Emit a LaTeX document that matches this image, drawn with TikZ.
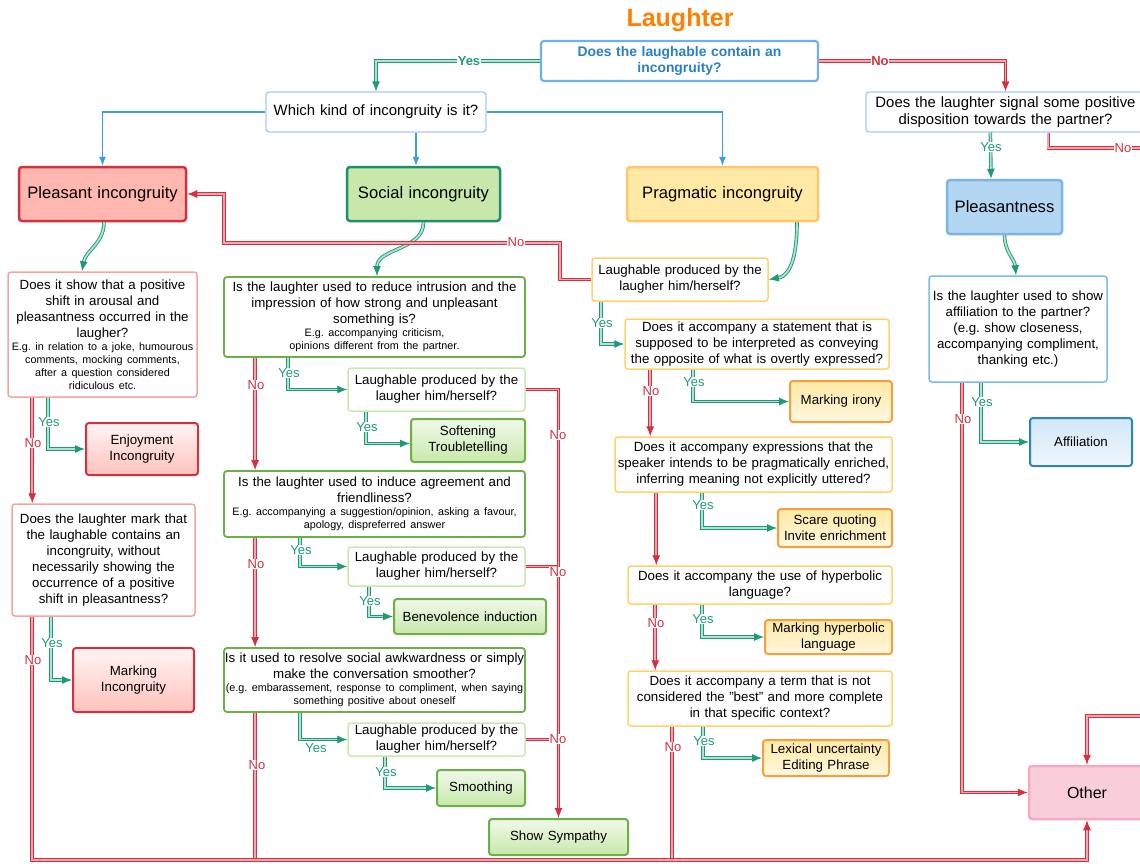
\documentclass[tikz,border=0pt]{standalone}
\usepackage{fontspec}
\setmainfont{Liberation Sans}
\usetikzlibrary{arrows.meta,calc}
\frenchspacing
\definecolor{redc}{HTML}{D3313F}
\definecolor{redcore}{HTML}{F0A8AE}
\definecolor{grc}{HTML}{1E9A78}
\definecolor{grcore}{HTML}{B2E2D2}
\definecolor{bluec}{HTML}{3A9FE0}
\definecolor{titlec}{HTML}{FF8000}
\definecolor{n0line}{HTML}{6FB1E3}
\definecolor{n0text}{HTML}{2B80C3}
\definecolor{qblueline}{HTML}{A3CCF0}
\definecolor{plfill}{HTML}{FFB7AF}
\definecolor{sofill}{HTML}{C7E8AA}
\definecolor{soline}{HTML}{1E8F6E}
\definecolor{prfill}{HTML}{FFE9A4}
\definecolor{prline}{HTML}{FFC66E}
\definecolor{pnfill}{HTML}{B3D6F2}
\definecolor{pnline}{HTML}{79B5E5}
\definecolor{lqline}{HTML}{F5A59E}
\definecolor{sqline}{HTML}{6DB04B}
\definecolor{saline}{HTML}{C8E9AC}
\definecolor{pqline}{HTML}{FFD36B}
\definecolor{rqline}{HTML}{7DBBEA}
\definecolor{orline}{HTML}{F4A040}
\definecolor{afline}{HTML}{2C83C4}
\definecolor{otfill}{HTML}{F9CEDA}
\definecolor{otline}{HTML}{F5ABC1}
\newcommand\fmain{\fontsize{13.3}{16}\selectfont}
\newcommand\fsmall{\fontsize{10.8}{13}\selectfont}
\newcommand\fcat{\fontsize{16.6}{19}\selectfont}
\newcommand\ftop{\fontsize{14.9}{17}\selectfont}
\newcommand\flab{\fontsize{13}{14}\selectfont}
\begin{document}
\begin{tikzpicture}[x=1pt,y=-1pt,
  wh/.style 2 args={minimum width=#1pt, text width=#1pt, minimum height=#2pt},
  base/.style={rounded corners=3pt, align=center, inner xsep=0pt, inner ysep=2pt, font=\fmain},
  topq/.style={base, draw=n0line, line width=2.2pt, fill=white, text=n0text, font=\bfseries\fontsize{13.9}{16.5}\selectfont},
  qblue/.style={base, draw=qblueline, line width=1.3pt, fill=white, font=\ftop},
  cat/.style={base, line width=2.5pt, font=\fcat},
  lq/.style={base, draw=lqline, line width=1.5pt},
  sq/.style={base, draw=sqline, line width=1.8pt},
  sa/.style={base, draw=saline, line width=1.5pt},
  pq/.style={base, draw=pqline, line width=1.5pt},
  rq/.style={base, draw=rqline, line width=1.5pt},
  outred/.style={base, draw=redc, line width=2pt, top color=red!4!white, bottom color=plfill!85!white},
  outgreen/.style={base, draw=sqline, line width=2pt, top color=sofill!25!white, bottom color=sofill},
  outyel/.style={base, draw=orline, line width=2pt, top color=prfill, bottom color=prfill!35!white},
  outblue/.style={base, draw=afline, line width=2pt, top color=pnfill!60!white, bottom color=pnfill!20!white},
  yesl/.style={draw=grc, line width=0.9pt, double=grcore, double distance=1.8pt, -{Latex[length=10pt,width=8pt]}},
  nol/.style={draw=redc, line width=0.9pt, double=redcore, double distance=1.8pt, -{Latex[length=10pt,width=8pt]}},
  nojoin/.style={nol, -},
  bl/.style={draw=bluec, line width=1.1pt, -{Latex[length=9pt,width=7pt]}},
  ylab/.style={fill=white, text=grc, inner sep=0.8pt, font=\flab},
  nlab/.style={fill=white, text=redc, inner sep=0.8pt, font=\flab}
]
\useasboundingbox (0,0) rectangle (1140,863);
\clip (0,0) rectangle (1140,863);

% ---------- nodes ----------
\node[font=\bfseries\fontsize{25}{30}\selectfont, text=titlec] (title) at (680,20) {Laughter};
\node[topq, wh={277}{40}] (n0) at (679.5,61) {Does the laughable contain an\\incongruity?};
\node[qblue, wh={220}{40}] (n1) at (376,112) {Which kind of incongruity is it?};
\node[qblue, wh={279}{40}] (n2) at (1005.5,112) {Does the laughter signal some positive\\disposition towards the partner?};

\node[cat, fill=plfill, draw=redc, wh={167}{54}] (pl) at (102.5,194) {Pleasant incongruity};
\node[cat, fill=sofill, draw=soline, wh={153}{54}] (so) at (423.5,194) {Social incongruity};
\node[cat, fill=prfill, draw=prline, wh={191}{54}] (pr) at (722.5,194) {Pragmatic incongruity};
\node[cat, fill=pnfill, draw=pnline, wh={115}{54}] (pn) at (1004.5,207) {Pleasantness};

% left column
\node[lq, wh={189}{125}] (l1) at (102.5,334.5) {Does it show that a positive\\shift in arousal and\\pleasantness occurred in the\\laugher?\par
{\fsmall E.g. in relation to a joke, humourous\\comments, mocking comments,\\after a question considered\\ridiculous etc.\par}};
\node[outred, wh={112}{52}] (enj) at (142,449) {Enjoyment\\Incongruity};
\node[lq, wh={183}{112}] (l2) at (103.5,560) {Does the laughter mark that\\the laughable contains an\\incongruity, without\\necessarily showing the\\occurrence of a positive\\shift in pleasantness?};
\node[outred, wh={121}{64}] (mi) at (133.5,680) {Marking\\Incongruity};

% social column
\node[sq, wh={301}{80}] (s1) at (374.5,317) {Is the laughter used to reduce intrusion and the\\impression of how strong and unpleasant\\something is?\par
{\fsmall E.g. accompanying criticism,\\opinions different from the partner.\par}};
\node[sa, wh={177}{43}] (s1a) at (436.5,389.5) {Laughable produced by the\\laugher him/herself?};
\node[outgreen, wh={114}{43}] (soft) at (468,440.5) {Softening\\Troubletelling};
\node[sq, wh={301}{66}] (s2) at (374.5,504) {Is the laughter used to induce agreement and\\friendliness?\par
{\fsmall E.g. accompanying a suggestion/opinion, asking a favour,\\apology, dispreferred answer\par}};
\node[sa, wh={177}{39}] (s2a) at (436.5,566.5) {Laughable produced by the\\laugher him/herself?};
\node[outgreen, wh={152}{35}] (ben) at (470,616.5) {Benevolence induction};
\node[sq, wh={301}{64}] (s3) at (374.5,680) {Is it used to resolve social awkwardness or simply\\make the conversation smoother?\par
{\fsmall (e.g. embarassement, response to compliment, when saying\\something positive about oneself\par}};
\node[sa, wh={177}{33}] (s3a) at (436.5,739.5) {Laughable produced by the\\laugher him/herself?};
\node[outgreen, wh={88}{36}] (smo) at (481,788) {Smoothing};
\node[outgreen, wh={139}{36}] (sym) at (558.5,837) {Show Sympathy};

% pragmatic column
\node[pq, wh={176}{43}] (p0) at (680,279.5) {Laughable produced by the\\laugher him/herself?};
\node[pq, wh={264}{50}] (p1) at (757,344) {Does it accompany a statement that is\\supposed to be interpreted as conveying\\the opposite of what is overtly expressed?};
\node[outyel, wh={102}{41}] (irony) at (841,401.5) {Marking irony};
\node[pq, wh={277}{55}] (p2) at (753.5,464.5) {Does it accompany expressions that the\\speaker intends to be pragmatically enriched,\\inferring meaning not explicitly uttered?};
\node[outyel, wh={114}{38}] (scare) at (835,528) {Scare quoting\\Invite enrichment};
\node[pq, wh={264}{38}] (p3) at (760,585) {Does it accompany the use of hyperbolic\\language?};
\node[outyel, wh={127}{34}] (hyp) at (828.5,637) {Marking hyperbolic\\language};
\node[pq, wh={264}{55}] (p4) at (760,698.5) {Does it accompany a term that is not\\considered the "best" and more complete\\in that specific context?};
\node[outyel, wh={126}{36}] (lex) at (826,758) {Lexical uncertainty\\Editing Phrase};

% right column
\node[rq, wh={178}{106}] (r1) at (1018,329) {Is the laughter used to show\\affiliation to the partner?\\(e.g. show closeness,\\accompanying compliment,\\thanking etc.)};
\node[outblue, wh={102}{48}] (aff) at (1081,442) {Affiliation};
\node[base, fill=otfill, draw=otline, line width=2.5pt, font=\fontsize{16}{19}\selectfont, wh={116}{53}] (other) at (1087,792.5) {Other};

% ---------- coordinates ----------
\coordinate (bot) at (0,860);
\coordinate (sx) at (558,0);
\coordinate (offr1) at (1160,148);
\coordinate (offr2) at (1160,716);
\coordinate (cA) at (560,243);
\coordinate (cB) at (224,243);
\coordinate (s3no) at ([xshift=32pt]s3.south west);
\coordinate (p4no) at ([xshift=45pt]p4.south west);

% ---------- connectors ----------
\draw[yesl] (n0.west) -| (n1.north);
\draw[nol] (n0.east) -| (n2.north);
\draw[bl] (n1.west) -| (pl.north);
\draw[bl] ([xshift=40pt]n1.south) -- ([xshift=-7.5pt]so.north);
\draw[bl] (n1.east) -| (pr.north);
\draw[yesl] ([xshift=125pt]n2.south west) -- ([xshift=-13.5pt]pn.north);
\draw[nol] ([xshift=183pt]n2.south west) |- (offr1) -- (offr2) -| (other.north);

\draw[yesl] ([xshift=1.5pt]pl.south) to[out=-90,in=80] ([xshift=-20.5pt]l1.north);
\draw[yesl] (so.south) to[out=-90,in=90] ([xshift=2.5pt]s1.north);
\draw[yesl] ([xshift=74.5pt]pr.south) to[out=-90,in=10] (p0.east);
\draw[yesl] (pn.south) to[out=-90,in=95] ([xshift=-2pt]r1.north);

\draw[nol] (p0.west) -| (cA) -- (cB) |- (pl.east);

% left
\draw[yesl] ([xshift=41pt]l1.south west) |- (enj.west);
\draw[nol] ([xshift=25pt]l1.south west) -- ([xshift=21pt]l2.north west);
\draw[yesl] ([xshift=40pt]l2.south west) |- (mi.west);

% social
\draw[nol] ([xshift=32pt]s1.south west) -- ([xshift=32pt]s2.north west);
\draw[nol] ([xshift=32pt]s2.south west) -- ([xshift=32pt]s3.north west);
\draw[yesl] ([xshift=65pt]s1.south west) |- (s1a.west);
\draw[yesl] ([xshift=19pt]s1a.south west) |- ([yshift=-3pt]soft.west);
\draw[yesl] ([xshift=77pt]s2.south west) |- (s2a.west);
\draw[yesl] ([xshift=22pt]s2a.south west) |- (ben.west);
\draw[yesl] ([xshift=77pt]s3.south west) |- (s3a.west);
\draw[yesl] ([xshift=38pt]s3a.south west) |- (smo.west);
\draw[nojoin] (s2a.east) -- (s2a.east -| sx);
\draw[nojoin] (s3a.east) -- (s3a.east -| sx);
\draw[nol] (s1a.east) -| (sym.north);

% pragmatic
\draw[yesl] ([xshift=10pt]p0.south west) |- (p1.west);
\draw[nol] ([xshift=26pt]p1.south west) -- ([xshift=36pt]p2.north west);
\draw[yesl] ([xshift=69pt]p1.south west) |- (irony.west);
\draw[nol] ([xshift=42pt]p2.south west) -- ([xshift=29pt]p3.north west);
\draw[yesl] ([xshift=88pt]p2.south west) |- (scare.west);
\draw[nol] ([xshift=28pt]p3.south west) -- ([xshift=28pt]p4.north west);
\draw[yesl] ([xshift=75pt]p3.south west) |- (hyp.west);
\draw[yesl] ([xshift=76pt]p4.south west) |- (lex.west);

% right
\draw[yesl] ([xshift=53pt]r1.south west) |- (aff.west);
\draw[nol] ([xshift=34pt]r1.south west) |- (other.west);

% bottom collector
\draw[nojoin] (s3no) -- (s3no |- bot);
\draw[nojoin] (p4no) -- (p4no |- bot);
\draw[nol] ([xshift=21pt]l2.south west) |- (bot -| other.south) -- (other.south);

% ---------- labels ----------
\node[ylab, font=\bfseries\flab] (lyTop) at (469,61) {Yes};
\node[nlab, font=\bfseries\flab] (lnTop) at (880,61) {No};
\node[ylab] (lyN2) at (991,147) {Yes};
\node[nlab] (lnN2) at (1123,148) {No};
\node[nlab] (lnP0) at (516,242) {No};
\node[ylab] (lyL1) at (49,422) {Yes};
\node[nlab] (lnL1) at (33,443) {No};
\node[ylab] (lyL2) at (52,643) {Yes};
\node[nlab] (lnL2) at (33,660) {No};
\node[ylab] (lyS1) at (289,373) {Yes};
\node[nlab] (lnS1) at (256,385) {No};
\node[ylab] (lyS1a) at (367,427) {Yes};
\node[nlab] (lnSa1) at (558,435) {No};
\node[nlab] (lnSa2) at (558,572) {No};
\node[nlab] (lnSa3) at (558,739) {No};
\node[ylab] (lyS2) at (301,550) {Yes};
\node[nlab] (lnS2) at (256,564) {No};
\node[ylab] (lyS2a) at (370,601) {Yes};
\node[ylab] (lyS3) at (316,748) {Yes};
\node[nlab] (lnS3) at (257,765) {No};
\node[ylab] (lyS3a) at (386,772) {Yes};
\node[ylab] (lyP0) at (602,323) {Yes};
\node[nlab] (lnP1) at (651,391) {No};
\node[ylab] (lyP1) at (694,382) {Yes};
\node[ylab] (lyP2) at (703,505) {Yes};
\node[nlab] (lnP3) at (656,623) {No};
\node[ylab] (lyP3) at (703,619) {Yes};
\node[nlab] (lnP4) at (673,747) {No};
\node[ylab] (lyP4) at (704,741) {Yes};
\node[ylab] (lyR1) at (982,402) {Yes};
\node[nlab] (lnR1) at (963,419) {No};
\end{tikzpicture}
\end{document}
